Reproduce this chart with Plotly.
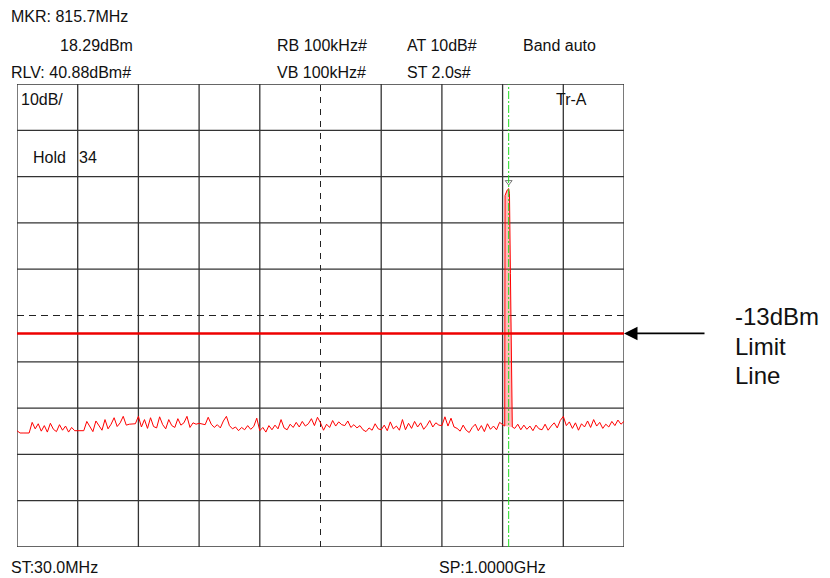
import plotly.graph_objects as go

# ---------------- data ----------------
START_MHZ = 30.0
STOP_MHZ = 1000.0
REF_DBM = 40.88
DB_PER_DIV = 10
N_DIV = 10
LIMIT_DBM = -13.0
MARKER_MHZ = 815.7
MARKER_DBM = 18.29

# noise floor, uniform sweep points from START to STOP (None = replaced by peak detail)
noise_dbm = [
    -34.0, -34.5, -34.5, -34.5, -34.5, -32.2, -33.6, -32.5, -34.1, -32.9, -34.3, -32.4, -33.7, -34.2, -32.7, -33.9, -33.0, -34.3, -33.3, -34.0,
    -34.0, -34.1, -34.0, -32.0, -33.2, -34.2, -31.9, -33.0, -33.9, -31.6, -33.6, -32.6, -31.2, -33.1, -32.3, -30.9, -32.8, -32.6, -32.6, -32.5,
    -30.9, -33.2, -31.6, -33.5, -31.2, -33.1, -33.4, -31.0, -32.7, -33.6, -31.6, -32.9, -33.3, -31.4, -32.8, -32.3, -30.9, -33.3, -32.3, -32.6,
    -32.4, -32.6, -32.7, -31.1, -32.6, -33.3, -32.7, -33.4, -31.9, -30.9, -32.9, -33.6, -33.2, -34.0, -33.3, -33.8, -32.9, -33.7, -33.1, -31.3,
    -34.0, -33.3, -34.3, -32.9, -33.8, -32.8, -33.6, -31.6, -33.4, -33.8, -32.6, -33.3, -32.2, -33.2, -32.0, -33.0, -32.5, -31.4, -32.9, -31.1,
    -32.3, -33.9, -32.6, -33.3, -31.8, -33.0, -32.1, -32.7, -32.9, -31.9, -33.3, -32.7, -33.4, -32.9, -33.8, -34.2, -33.4, -33.9, -32.5, -33.6,
    -33.8, -32.8, -34.0, -32.1, -33.6, -33.0, -33.9, -31.6, -33.8, -32.4, -33.5, -32.0, -33.2, -32.3, -33.7, -32.9, -31.8, -33.2, -32.3, -32.8,
    -32.9, -31.0, -33.0, -31.3, -33.2, -33.5, -34.1, -32.8, -33.9, -34.4, -33.3, -32.6, -34.0, -32.9, -34.2, -32.5, -33.7, -33.0, -33.8, -32.2,
    -32.6, None, None, None, -33.5, -32.6, -33.8, -32.8, -33.7, -33.0, -34.0, -32.8, -33.6, -33.8, -32.6, -33.9, -33.0, -32.3, -33.4, -31.8,
    -30.9, -32.9, -32.1, -33.5, -32.3, -33.9, -32.5, -33.2, -31.9, -33.3, -31.6, -33.0, -32.2, -33.5, -32.6, -33.2, -32.0, -32.9, -31.7, -32.6,
    -32.0,
]

# carrier peak detail
peak_mhz = [809.4, 809.9, 811.5, 813.5, 815.7, 817.0, 818.5, 820.4, 821.5]
peak_dbm = [-33.0, 16.8, 17.6, 18.0, 18.29, 17.2, 0.0, -25.0, -33.2]

header_left = ["MKR: 815.7MHz", "18.29dBm", "RLV: 40.88dBm#"]
header_mid = ["RB 100kHz#", "VB 100kHz#"]
header_right = ["AT 10dB#", "ST 2.0s#", "Band auto"]
footer = ["ST:30.0MHz", "SP:1.0000GHz"]
limit_label = ["-13dBm", "Limit", "Line"]

# ---------------- build ----------------
n = len(noise_dbm)
step = (STOP_MHZ - START_MHZ) / (n - 1)
pts = [(START_MHZ + i * step, v) for i, v in enumerate(noise_dbm) if v is not None]
pts += list(zip(peak_mhz, peak_dbm))
pts.sort()
freq = [p[0] for p in pts]
level = [p[1] for p in pts]

y_lo = REF_DBM - DB_PER_DIV * N_DIV
y_hi = REF_DBM

# the page body has an 8px margin: lay the figure out in page pixels
OFF = 8
W, H = 830 - OFF, 578 - OFF
L, T = 17 - OFF, 84 - OFF
R = W - (624 - OFF)
B = H - (547 - OFF)
PW, PH = W - L - R, H - T - B


def px(x):
    return (x - OFF - L) / PW


def py(y):
    return (H - B - (y - OFF)) / PH


fig = go.Figure()

# pink fill of the carrier
fig.add_trace(go.Scatter(x=peak_mhz, y=peak_dbm, mode="lines", fill="toself",
                         fillcolor="rgba(255,60,60,0.35)", line=dict(width=0),
                         hoverinfo="skip", showlegend=False))
# trace
fig.add_trace(go.Scatter(x=freq, y=level, mode="lines",
                         line=dict(color="#ff0000", width=1),
                         showlegend=False))
# marker symbol above peak
fig.add_trace(go.Scatter(x=[MARKER_MHZ], y=[MARKER_DBM + 1.4], mode="markers",
                         marker=dict(symbol="triangle-down-open", size=6,
                                     color="#777777", line=dict(width=1)),
                         showlegend=False))

shapes = []
grid_col = "#333333"
for i in range(N_DIV + 1):
    xv = START_MHZ + i * (STOP_MHZ - START_MHZ) / N_DIV
    yv = y_lo + i * DB_PER_DIV
    center = (i == N_DIV // 2)
    shapes.append(dict(type="line", xref="x", yref="y", x0=xv, x1=xv, y0=y_lo, y1=y_hi,
                       line=dict(color="#222222" if center else grid_col, width=1 if center else 1.3,
                                 dash="6px,6px" if center else "solid"),
                       layer="below"))
    shapes.append(dict(type="line", xref="x", yref="y", x0=START_MHZ, x1=STOP_MHZ, y0=yv, y1=yv,
                       line=dict(color="#222222" if center else grid_col, width=1 if center else 1.3,
                                 dash="7px,5px" if center else "solid"),
                       layer="below"))
# marker line (green dash-dot)
shapes.append(dict(type="line", xref="x", yref="y", x0=MARKER_MHZ, x1=MARKER_MHZ, y0=y_lo, y1=y_hi,
                   line=dict(color="#22dd22", width=1, dash="8px,2px,2px,2px"), layer="above"))
# limit line
shapes.append(dict(type="line", xref="x", yref="y", x0=START_MHZ, x1=STOP_MHZ,
                   y0=LIMIT_DBM, y1=LIMIT_DBM,
                   line=dict(color="#ee0000", width=2.5), layer="above"))

font_small = dict(family="Arial, Liberation Sans, sans-serif", size=16, color="#111111")
font_big = dict(family="Arial, Liberation Sans, sans-serif", size=24, color="#111111")

ann = []


def txt(s, x, y, font=font_small):
    ann.append(dict(text=s, xref="paper", yref="paper", x=px(x), y=py(y),
                    xanchor="left", yanchor="middle", showarrow=False, font=font))


txt(header_left[0], 9, 17)
txt(header_left[1], 58, 45)
txt(header_left[2], 9, 72)
txt(header_mid[0], 275, 45)
txt(header_mid[1], 275, 72)
txt(header_right[0], 405, 45)
txt(header_right[1], 405, 72)
txt(header_right[2], 521, 45)
txt("10dB/", 19, 100)
txt("Tr-A", 554, 100)
txt("Hold", 31, 157)
txt("34", 77, 157)
txt(footer[0], 9, 567)
txt(footer[1], 437, 567)
txt(limit_label[0], 733, 316, font_big)
txt(limit_label[1], 733, 346, font_big)
txt(limit_label[2], 733, 375, font_big)

# arrow pointing at limit line
ann.append(dict(text="", xref="x", yref="y", x=STOP_MHZ, y=LIMIT_DBM,
                ax=82, ay=0, axref="pixel", ayref="pixel",
                showarrow=True, arrowhead=2, arrowsize=1.5, arrowwidth=1.8,
                arrowcolor="#000000", standoff=0))

fig.update_layout(
    width=W, height=H, autosize=False,
    margin=dict(l=L, r=R, t=T, b=B, pad=0),
    paper_bgcolor="white", plot_bgcolor="white",
    xaxis=dict(range=[START_MHZ, STOP_MHZ], visible=False, fixedrange=True),
    yaxis=dict(range=[y_lo, y_hi], visible=False, fixedrange=True),
    shapes=shapes, annotations=ann, showlegend=False,
)

fig.write_html("out.html")
